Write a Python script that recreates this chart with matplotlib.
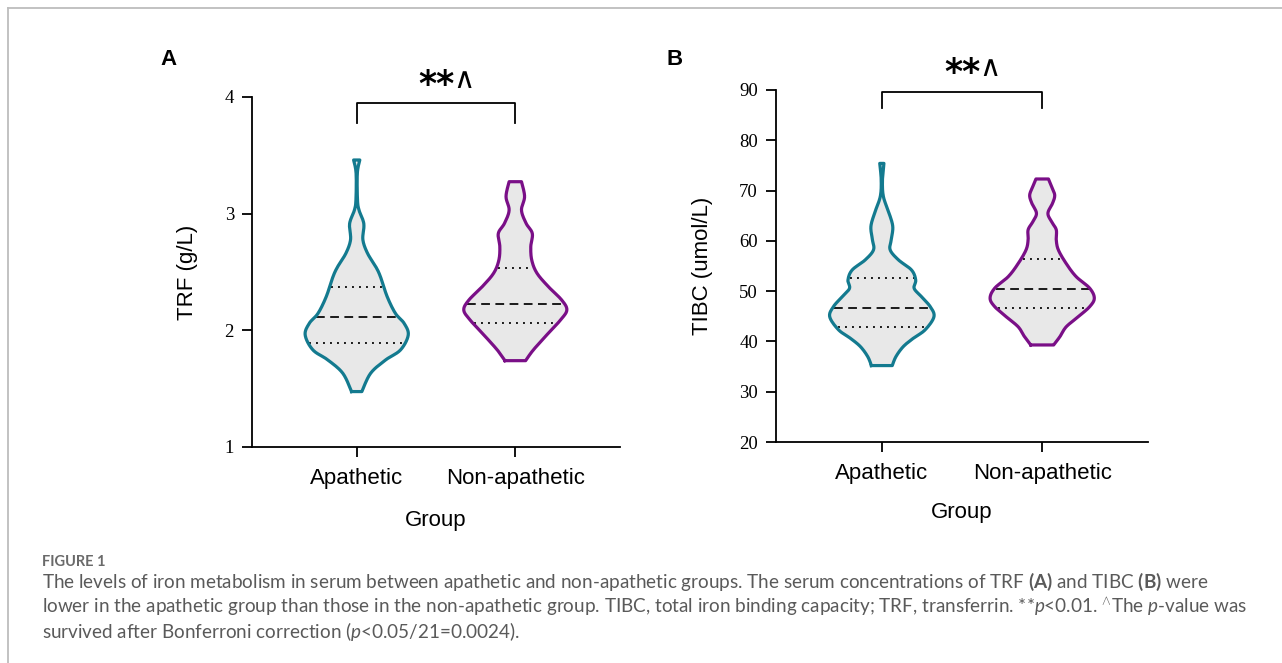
import numpy as np
import matplotlib.pyplot as plt
from matplotlib.lines import Line2D

plt.rcParams['mathtext.fontset'] = 'custom'
plt.rcParams['mathtext.rm'] = 'Lato'
plt.rcParams['mathtext.it'] = 'Lato:italic'
plt.rcParams['mathtext.bf'] = 'Lato:bold'

groups = ['Apathetic', 'Non-apathetic']

# violin outlines: value and relative half-width
trf_apa_y = [1.475, 1.632, 1.746, 1.832, 1.96, 2.06, 2.146, 2.29, 2.46, 2.545, 2.66, 2.775, 2.89, 2.946, 3.03, 3.117, 3.346, 3.46]
trf_apa_w = [0.10, 0.27, 0.56, 0.85, 1.0, 0.92, 0.75, 0.59, 0.46, 0.37, 0.21, 0.12, 0.14, 0.12, 0.045, 0.015, 0.012, 0.06]
trf_non_y = [1.74, 1.832, 1.975, 2.09, 2.175, 2.26, 2.375, 2.49, 2.6, 2.716, 2.83, 2.917, 3.03, 3.146, 3.274]
trf_non_w = [0.20, 0.35, 0.64, 0.88, 1.0, 0.9, 0.64, 0.42, 0.32, 0.30, 0.33, 0.21, 0.12, 0.18, 0.12]
tibc_apa_y = [35.2, 36.97, 38.96, 40.6, 42.3, 44.9, 46.9, 48.9, 50.56, 52.2, 54.2, 56.2, 58.2, 60.2, 62.8, 65.5, 68.8, 72.1, 75.4]
tibc_apa_w = [0.20, 0.27, 0.41, 0.60, 0.83, 1.0, 0.93, 0.76, 0.62, 0.65, 0.57, 0.32, 0.16, 0.18, 0.21, 0.14, 0.03, 0.012, 0.04]
tibc_non_y = [39.3, 40.95, 42.9, 44.9, 46.9, 48.6, 50.6, 52.9, 55.5, 58.2, 60.2, 62.2, 63.8, 65.5, 67.5, 69.1, 70.8, 72.3]
tibc_non_w = [0.22, 0.34, 0.46, 0.69, 0.91, 1.0, 0.91, 0.65, 0.46, 0.31, 0.27, 0.27, 0.18, 0.11, 0.20, 0.24, 0.18, 0.12]

# quartiles (q1, median, q3)
trf_apa_q = [1.895, 2.11, 2.375]
trf_non_q = [2.067, 2.224, 2.537]
tibc_apa_q = [42.8, 46.7, 52.7]
tibc_non_q = [46.6, 50.4, 56.4]

teal = '#137A8F'
purple = '#7A0F87'
half = 0.325


def catmull(ys, ws, n=14):
    p = np.column_stack([ys, ws])
    p = np.vstack([p[0], p, p[-1]])
    out = []
    t = np.linspace(0, 1, n, endpoint=False)[:, None]
    for i in range(1, len(p) - 2):
        p0, p1, p2, p3 = p[i - 1], p[i], p[i + 1], p[i + 2]
        out.append(0.5 * (2 * p1 + (-p0 + p2) * t + (2 * p0 - 5 * p1 + 4 * p2 - p3) * t ** 2
                          + (-p0 + 3 * p1 - 3 * p2 + p3) * t ** 3))
    out.append(p[-2][None])
    return np.vstack(out)


def violin(ax, x, ys, ws, q, color):
    c = catmull(ys, ws)
    yy, hw = c[:, 0], c[:, 1] * half
    px = np.concatenate([x - hw, (x + hw)[::-1], [x - hw[0]]])
    py = np.concatenate([yy, yy[::-1], [yy[0]]])
    ax.fill(px, py, facecolor='#E8E8E8', edgecolor='none', zorder=1)
    for v, ls in zip(q, [(0, (1, 2.6)), (0, (4.5, 2.8)), (0, (1, 2.6))]):
        w = np.interp(v, yy, hw) - 0.01
        ax.plot([x - w, x + w], [v, v], color='#1a1a1a', lw=1.4, ls=ls, zorder=2)
    ax.plot(px, py, color=color, lw=2.3, solid_joinstyle='round', zorder=3)


def style(ax, ticks, ylabel, lpad, xpad):
    for s in ['top', 'right']:
        ax.spines[s].set_visible(False)
    for s in ['left', 'bottom']:
        ax.spines[s].set_linewidth(1.3)
    ax.set_xlim(-0.66, 1.66)
    ax.set_ylim(ticks[0], ticks[-1])
    ax.set_yticks(ticks)
    ax.set_yticklabels([str(t) for t in ticks], family='Liberation Serif', fontsize=13.5)
    ax.set_xticks([0, 1])
    ax.set_xticklabels(groups, family='Liberation Sans', fontsize=16)
    ax.tick_params(direction='out', length=7, width=1.3)
    ax.tick_params(axis='x', pad=8)
    ax.tick_params(axis='y', pad=6)
    ax.set_xlabel('Group', family='Liberation Sans', fontsize=16, labelpad=xpad)
    ax.set_ylabel(ylabel, family='Liberation Sans', fontsize=16, labelpad=lpad)


def bracket(ax, low, top):
    ax.plot([0, 0, 1, 1], [low, top, top, low], color='k', lw=1.3, clip_on=False)
    ax.annotate('**', xy=(0.5, top), xytext=(0, 6), textcoords='offset points',
                ha='center', va='baseline', fontsize=25, fontweight='bold',
                family='DejaVu Sans', annotation_clip=False)
    ax.annotate('∧', xy=(0.5, top), xytext=(20, 11), textcoords='offset points',
                ha='center', va='baseline', fontsize=21,
                family='DejaVu Sans', annotation_clip=False)


fig = plt.figure(figsize=(12.82, 6.63), dpi=100)
axA = fig.add_axes([0.1966, 0.3258, 0.287, 0.5279])
axB = fig.add_axes([0.6053, 0.3333, 0.2902, 0.531])

violin(axA, 0, trf_apa_y, trf_apa_w, trf_apa_q, teal)
violin(axA, 1, trf_non_y, trf_non_w, trf_non_q, purple)
style(axA, [1, 2, 3, 4], 'TRF (g/L)', 19, 15)
bracket(axA, 3.78, 3.946)

violin(axB, 0, tibc_apa_y, tibc_apa_w, tibc_apa_q, teal)
violin(axB, 1, tibc_non_y, tibc_non_w, tibc_non_q, purple)
style(axB, [20, 30, 40, 50, 60, 70, 80, 90], 'TIBC (umol/L)', 19, 13)
bracket(axB, 86.4, 89.67)

fig.text(160 / 1282, 1 - 49 / 663, 'A', fontsize=16, fontweight='bold', family='Liberation Sans', va='top')
fig.text(667 / 1282, 1 - 49 / 663, 'B', fontsize=16, fontweight='bold', family='Liberation Sans', va='top')

# page frame
fig.add_artist(Line2D([8 / 1282, 1], [1 - 8 / 663, 1 - 8 / 663], color='#BDBDBD', lw=1.3, transform=fig.transFigure))
fig.add_artist(Line2D([8 / 1282, 8 / 1282], [0, 1 - 8 / 663], color='#BDBDBD', lw=1.3, transform=fig.transFigure))

# caption
cap = '#5A5A5A'
fig.text(42 / 1282, 1 - 566 / 663, 'FIGURE 1', fontsize=10.5, color='#6A6A6A', family='Lato',
         fontweight='bold', va='baseline')
lines = [
    r'The levels of iron metabolism in serum between apathetic and non-apathetic groups. '
    r'The serum concentrations of TRF $\mathbf{(A)}$ and TIBC $\mathbf{(B)}$ were',
    r'lower in the apathetic group than those in the non-apathetic group. TIBC, total iron binding '
    r'capacity; TRF, transferrin. **$\mathit{p}$<0.01. $^{\wedge}$The $\mathit{p}$-value was',
    r'survived after Bonferroni correction ($\mathit{p}$<0.05/21=0.0024).',
]
for i, s in enumerate(lines):
    fig.text(42 / 1282, 1 - (588 + 25 * i) / 663, s, fontsize=13.6, color=cap, family='Lato', va='baseline')

fig.savefig('out.png', dpi=100)
